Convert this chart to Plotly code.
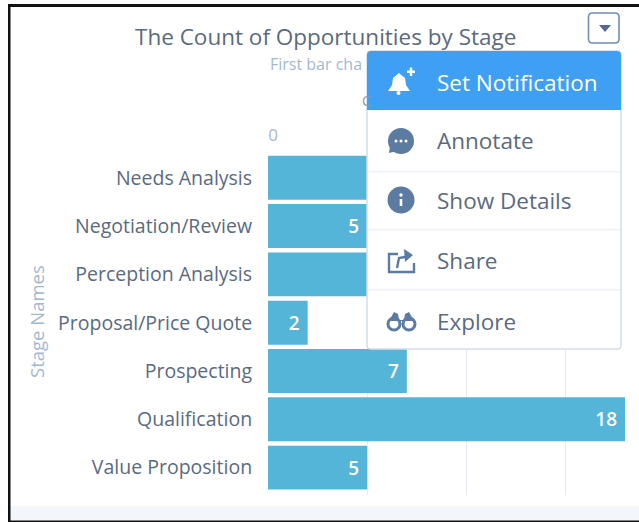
import plotly.graph_objects as go

W, H = 639, 522
stages = ["Needs Analysis", "Negotiation/Review", "Perception Analysis", "Proposal/Price Quote",
          "Prospecting", "Qualification", "Value Proposition"]
counts = [7, 5, 7, 2, 7, 18, 5]
x_ticks = [0, 5, 10, 15]
title_text = "The Count of Opportunities by Stage"
subtitle_text = "First bar cha"
y_title_text = "Stage Names"
menu_items = ["Set Notification", "Annotate", "Show Details", "Share", "Explore"]

FONT = "Open Sans"
DARK = "#5a6a80"
LIGHT = "#a3b8d0"
ICON = "#5c7ba1"


def X(px):
    return px / W


def Y(py):
    return 1 - py / H


def P(cmd, *pts):
    return cmd + " ".join(f"{X(a):.5f},{Y(b):.5f}" for a, b in pts)


def rrect(x0, y0, x1, y1, r, fill, line=None, width=1, top_only=False):
    br = r if not top_only else 0
    d = (P("M", (x0 + r, y0)) + P("L", (x1 - r, y0)) + P("Q", (x1, y0), (x1, y0 + r)) +
         P("L", (x1, y1 - br)) + P("Q", (x1, y1), (x1 - br, y1)) + P("L", (x0 + br, y1)) +
         P("Q", (x0, y1), (x0, y1 - br)) + P("L", (x0, y0 + r)) + P("Q", (x0, y0), (x0 + r, y0)) + "Z")
    return dict(type="path", xref="paper", yref="paper", path=d, fillcolor=fill,
                line=dict(color=line or "rgba(0,0,0,0)", width=width if line else 0), layer="above")


def rect(x0, y0, x1, y1, fill):
    return dict(type="rect", xref="paper", yref="paper", x0=X(x0), x1=X(x1), y0=Y(y1), y1=Y(y0),
                fillcolor=fill, line=dict(width=0), layer="above")


def circ(cx, cy, r, fill=None, line=None, width=2):
    return dict(type="circle", xref="paper", yref="paper", x0=X(cx - r), x1=X(cx + r), y0=Y(cy + r), y1=Y(cy - r),
                fillcolor=fill or "rgba(0,0,0,0)",
                line=dict(color=line or "rgba(0,0,0,0)", width=width if line else 0), layer="above")


def poly(pts, fill=None, line=None, width=2, close=True):
    d = P("M", pts[0]) + "".join(P("L", p) for p in pts[1:]) + ("Z" if close else "")
    return dict(type="path", xref="paper", yref="paper", path=d, fillcolor=fill or "rgba(0,0,0,0)",
                line=dict(color=line or "rgba(0,0,0,0)", width=width if line else 0), layer="above")


shapes = [
    rect(9, 506, W, 521, "#f3f6fa"),
    rect(8, 4, W, 7, "#111111"),
    rect(8, 4, 10.5, 522, "#111111"),
    rect(8, 520.5, W, 522, "#111111"),
    rrect(588.5, 13, 619, 43, 4, "#ffffff", "#6f8fb3", 1.6),
    poly([(599, 25), (611, 25), (605, 32)], "#54698d"),
    rrect(367, 51, 621, 349, 4, "#ffffff", "#d3dde9", 1.5),
    rrect(367, 51, 621, 110, 4, "#3f9ff2", None, top_only=True),
    rect(368, 171, 620, 172.5, "#eef2f7"),
    rect(368, 229, 620, 230.5, "#eef2f7"),
    rect(368, 289, 620, 290.5, "#eef2f7"),
    # bell with plus
    poly([(388, 91), (392, 85), (393, 78), (399, 73), (405, 78), (406, 85), (410, 91)], "#ffffff"),
    circ(398.5, 93, 2, "#ffffff"),
    rect(407, 70.5, 415, 73, "#ffffff"), rect(409.8, 67.5, 412.2, 76, "#ffffff"),
    # chat
    circ(401, 141, 13, ICON),
    poly([(390, 146), (389, 153), (397, 151)], ICON),
    circ(396, 141, 1.5, "#ffffff"), circ(401, 141, 1.5, "#ffffff"), circ(406, 141, 1.5, "#ffffff"),
    # info
    circ(401, 200, 13.5, ICON),
    rect(399.7, 199, 402.3, 206, "#ffffff"), circ(401, 195, 1.7, "#ffffff"),
    # share
    poly([(398, 254), (389, 254), (389, 272), (414, 272), (414, 263)], None, ICON, 2.4, close=False),
    poly([(397, 268), (399, 258), (410, 256)], None, ICON, 2.4, close=False),
    poly([(404, 249), (413, 255), (405, 262)], ICON),
    # binoculars
    circ(394, 324, 6, None, ICON, 3), circ(409, 324, 6, None, ICON, 3),
    poly([(389, 321), (394, 312), (398, 314), (399, 320), (404, 320), (405, 314), (409, 312), (414, 321)], ICON),
]

annotations = [
    dict(text=title_text, x=X(325), y=Y(36), font=dict(size=22.5, color=DARK)),
    dict(text=subtitle_text, x=X(267.5), y=Y(64), xanchor="left", font=dict(size=16, color=LIGHT)),
    dict(text="C", x=X(360), y=Y(100), xanchor="left", font=dict(size=14, color="#8c98a8")),
    dict(text=y_title_text, x=X(36), y=Y(322), textangle=-90, font=dict(size=18.5, color=LIGHT)),
]
item_y = [82.5, 140.5, 200.5, 260.5, 321]
for i, (label, yy) in enumerate(zip(menu_items, item_y)):
    annotations.append(dict(text=label, x=X(434.5), y=Y(yy), xanchor="left",
                            font=dict(size=22.5, color="#ffffff" if i == 0 else DARK)))
for a in annotations:
    a.update(xref="paper", yref="paper", showarrow=False, yanchor="middle")
    a.setdefault("xanchor", "center")
    a["font"]["family"] = FONT

fig = go.Figure(go.Bar(
    y=stages, x=counts, orientation="h", marker=dict(color="#54b5d9", line=dict(width=0)),
    text=counts, texttemplate="%{x}\u00a0", textposition="inside", insidetextanchor="end",
    textangle=0, constraintext="none",
    textfont=dict(family=FONT, size=19, color="#ffffff", weight=600), hoverinfo="skip",
))
fig.update_layout(
    width=W, height=H, margin=dict(l=0, r=0, t=0, b=0), autosize=False,
    paper_bgcolor="#ffffff", plot_bgcolor="#ffffff", showlegend=False, bargap=0.09,
    shapes=shapes, annotations=annotations,
    xaxis=dict(domain=[X(268), X(625)], range=[0, 18], side="top", tickvals=x_ticks, anchor="y",
               showline=False, zeroline=False, showgrid=True, gridcolor="#e6ebf2", gridwidth=1,
               ticks="", ticklabelstandoff=8, ticklabelshift=5,
               tickfont=dict(family=FONT, size=17, color=LIGHT)),
    yaxis=dict(domain=[Y(495), Y(153.6)], range=[6.567, -0.5], type="category", showline=False,
               showgrid=False, zeroline=False, ticks="outside", ticklen=11, tickcolor="rgba(0,0,0,0)",
               categoryorder="array", categoryarray=stages,
               tickfont=dict(family=FONT, size=19.5, color=DARK)),
)
fig.write_html("out.html", config={"displayModeBar": False},
               post_script="document.body.style.margin='0';")
